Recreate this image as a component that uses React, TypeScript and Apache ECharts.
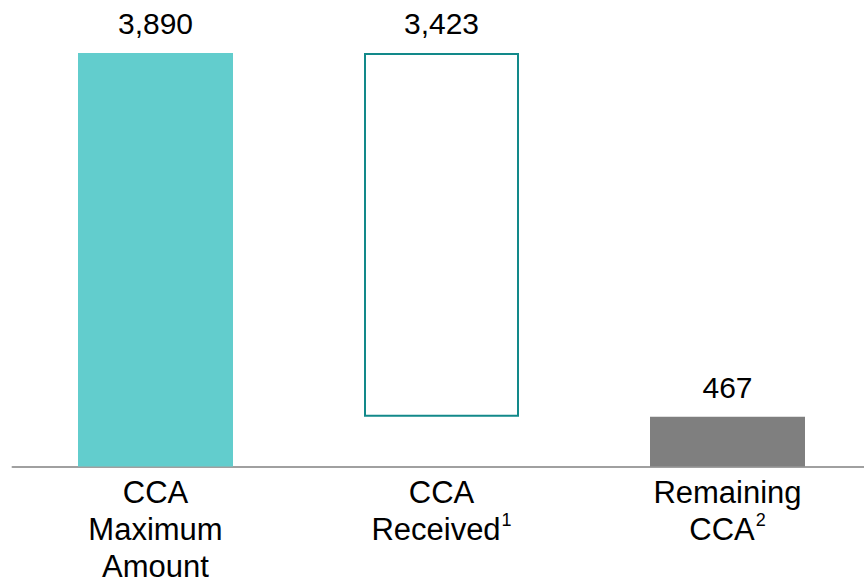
import React, { useEffect, useRef } from "react";
import * as echarts from "echarts";

const categories = ["CCA\nMaximum\nAmount", "CCA\nReceived", "Remaining\nCCA"];
const footnotes = ["", "1", "2"];
const totalValues = [3890, 3423, 467];
const baseValues = [0, 467, 0];

const fmt = (v: number) => v.toLocaleString("en-US");

export default function App() {
  const ref = useRef<HTMLDivElement>(null);
  useEffect(() => {
    if (!ref.current) return;
    const chart = echarts.init(ref.current, undefined, { renderer: "svg" });
    const fontFamily = "'Liberation Sans', Arial, sans-serif";
    chart.setOption({
      animation: false,
      backgroundColor: "#ffffff",
      grid: {
        left: 12.5,
        top: 41.3,
        width: 858,
        height: 425.2,
        containLabel: false,
        outerBoundsMode: "none",
      },
      xAxis: {
        type: "category",
        data: categories,
        axisLine: { lineStyle: { color: "#a0a0a0", width: 2 } },
        axisTick: { show: false },
        axisLabel: {
          color: "#000000",
          fontSize: 31,
          lineHeight: 37,
          fontFamily,
          margin: 7,
          interval: 0,
          formatter: (v: string, i: number) =>
            footnotes[i] ? `${v}{sup|${footnotes[i]}}` : v,
          rich: {
            sup: {
              fontSize: 18,
              lineHeight: 37,
              fontFamily,
              color: "#000000",
              verticalAlign: "top",
              padding: [0, 0, 0, 1],
            },
          },
        },
      },
      yAxis: {
        type: "value",
        min: 0,
        max: 4000,
        show: false,
        splitLine: { show: false },
      },
      series: [
        {
          type: "bar",
          stack: "w",
          data: baseValues,
          barWidth: 155,
          itemStyle: { color: "rgba(0,0,0,0)" },
          silent: true,
        },
        {
          type: "bar",
          stack: "w",
          barWidth: 155,
          data: totalValues.map((v, i) => ({
            value: v,
            itemStyle:
              i === 0
                ? { color: "#62cdcd" }
                : i === 1
                ? { color: "#ffffff", borderColor: "#12898a", borderWidth: 2 }
                : { color: "#7f7f7f" },
          })),
          label: {
            show: true,
            position: "top",
            distance: 14,
            color: "#000000",
            fontSize: 30,
            fontFamily,
            formatter: (p: any) => fmt(p.value),
          },
        },
      ],
    });
    return () => chart.dispose();
  }, []);
  return (
    <div
      style={{
        position: "fixed",
        left: 0,
        top: 0,
        width: 864,
        height: 586,
        overflow: "hidden",
        background: "#ffffff",
      }}
    >
      <div ref={ref} style={{ width: 872, height: 586 }} />
    </div>
  );
}
